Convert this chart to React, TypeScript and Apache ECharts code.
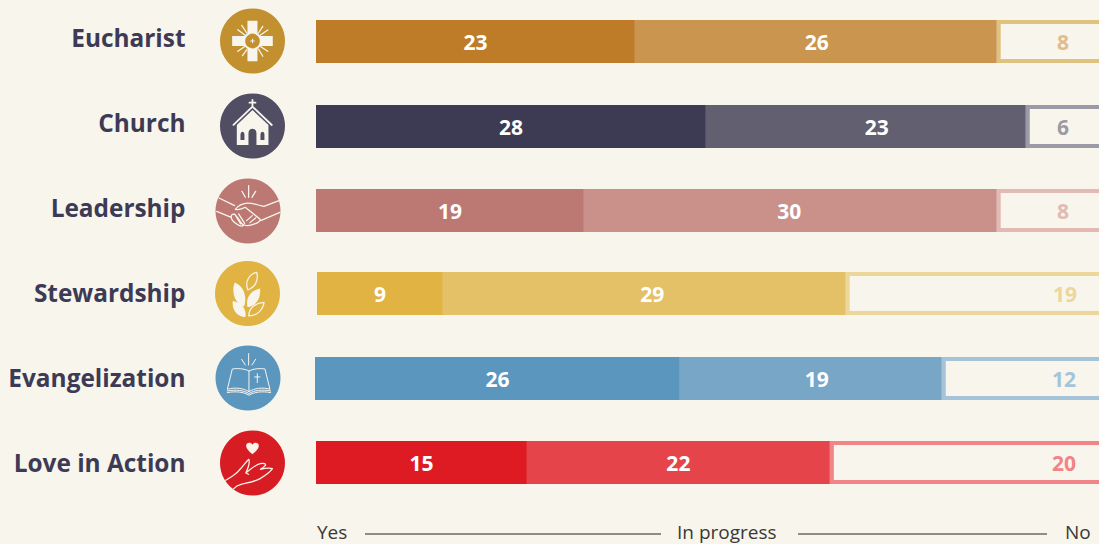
import React, { useEffect, useRef } from "react";
import * as echarts from "echarts";

const categories = ["Eucharist", "Church", "Leadership", "Stewardship", "Evangelization", "Love in Action"];
const yesValues = [22.95, 28.06, 19.28, 9.06, 26.26, 15.18];
const progressValues = [26.04, 23.02, 29.71, 28.99, 18.85, 21.8];
const noValues = [8.01, 5.92, 8.01, 18.95, 11.89, 20.02];
const legendLabels = ["Yes", "In progress", "No"];

const yesColors = ["#BE7B28", "#3D3A53", "#BC7873", "#E0B343", "#5B96BE", "#DE1B23"];
const progressColors = ["#C9954F", "#615F70", "#C9918A", "#E4C066", "#78A6C7", "#E6444B"];
const noBorderColors = ["#E0C27F", "#9C9AA6", "#E3B9B3", "#EDD69A", "#A5C4D9", "#F08487"];
const noLabelColors = ["#E0BC8D", "#9C9AA6", "#E3B9B3", "#EDD69A", "#A5C4D9", "#F08487"];
const iconColors = ["#C2902E", "#514E63", "#BC7873", "#E0B343", "#5B96BE", "#D81C24"];

const BG = "#F8F5EC";
const INK = "#3D3A56";
const FONT = "Open Sans";
const AXIS_MAX = 57;
const BAR_W = 792;
const BAR_H = 43;
const rowLeft = [316, 316, 316, 317, 315, 316];
const rowTop = [20, 105, 189, 272, 357, 441];
const labelY = [37, 122, 207, 292, 377, 462];
const noLabelX = [1063, 1063, 1063, 1065, 1064, 1064];
const progressLabelShift = [1, 11, -1, 8, 6, 0];
const iconCx = [252.5, 252.5, 248, 247.5, 248, 252.5];
const iconCy = [41, 126, 211, 293.5, 378, 463];
const iconShift = [[112, 109], [112, 108], [112, 111], [112, 111], [112, 111], [112, 108]];

const fillPaths = [
  "M97 48H127V94H173V124H127V170H97V124H51V94H97Z",
  "M65 165V105L112 60L160 105V165H124V130C124 112 100 112 100 130V165ZM76 150H88V134C88 122 76 122 76 134ZM136 150H148V134C148 122 136 122 136 134Z",
  "M0 0",
  "M102 150C70 140 64 100 74 78C100 88 112 120 102 150ZM112 152C106 125 122 102 150 96C152 125 140 148 112 152ZM106 182C82 182 64 160 68 134C94 138 110 158 106 182Z",
  "M0 0",
  "M112 82C100 72 93 64 93 56C93 47 106 43 112 53C118 43 131 47 131 56C131 64 124 72 112 82Z",
];
const strokePaths = [
  "M68 75L90 92M80 62L95 85M130 85L143 65M135 92L158 76M135 125L158 140M130 133L143 155M90 125L68 140M95 135L82 153",
  "M55 105L112 50L170 105M112 30V50M103 38H121",
  "M114 35V70M94 52L104 70M135 52L124 70M25 72L72 95M18 112L62 130M205 80L160 97M208 115L150 140M160 97C145 95 125 85 105 88C92 90 80 98 74 106C84 108 95 105 104 100C118 112 135 125 148 135C150 142 140 148 132 150C120 155 105 158 95 150M62 130C60 120 70 118 76 125C85 135 92 148 98 155C92 160 85 155 78 150C70 145 62 138 62 130M72 120L90 150M84 120L102 148M125 125L108 140M135 132L118 146",
  "M113 100C103 75 118 52 140 48C146 72 134 94 113 100ZM116 178C116 155 135 140 162 138C158 162 140 178 116 178Z",
  "M114 38V72M93 55L104 72M135 55L124 72M115 90C100 82 80 82 65 84L50 145C75 138 98 142 115 152C132 142 155 138 178 145L163 84C150 82 130 82 115 90V152M50 150C75 145 100 148 115 158C130 148 155 145 180 150M50 155C75 150 100 153 115 163C130 153 155 150 180 155M140 98V125M132 108H148",
  "M32 160C48 150 62 142 72 130C84 118 92 105 101 97C106 108 98 125 92 138C105 128 122 112 135 110C145 108 155 110 150 116C146 121 140 124 136 127C148 124 162 122 172 125C165 135 150 146 135 155C118 165 95 168 78 172C68 174 60 180 55 186M92 138L100 142",
];

fillPaths.forEach((d, i) => {
  echarts.graphic.registerShape("iconFill" + i, echarts.graphic.extendPath(d, {}));
  echarts.graphic.registerShape("iconStroke" + i, echarts.graphic.extendPath(strokePaths[i], {}));
});

function iconGraphic(i: number) {
  const S = 1 / 3;
  const [ox, oy] = iconShift[i];
  const children: any[] = [
    { type: "circle", shape: { cx: 0, cy: 0, r: 32.5 }, style: { fill: iconColors[i] } },
    {
      type: "iconFill" + i,
      x: -ox * S,
      y: -oy * S,
      scaleX: S,
      scaleY: S,
      style: { fill: BG, stroke: "none" },
    },
    {
      type: "iconStroke" + i,
      x: -ox * S,
      y: -oy * S,
      scaleX: S,
      scaleY: S,
      style: { fill: "none", stroke: BG, lineWidth: i === 4 ? 3 : i === 1 ? 5.5 : 3.8, lineCap: "round", lineJoin: "round" },
    },
  ];
  if (i === 0) {
    children.push(
      { type: "circle", shape: { cx: 0, cy: 0, r: 8.2 }, style: { fill: iconColors[0], stroke: BG, lineWidth: 1.8 } },
      { type: "line", shape: { x1: -2.2, y1: 0, x2: 2.2, y2: 0 }, style: { stroke: BG, lineWidth: 1 } },
      { type: "line", shape: { x1: 0, y1: -2.2, x2: 0, y2: 2.2 }, style: { stroke: BG, lineWidth: 1 } },
    );
  }
  return { type: "group", x: iconCx[i], y: iconCy[i], children };
}

const fmt = (p: any) => String(Math.round(p.value));

function buildOption() {
  const grid: any[] = [];
  const xAxis: any[] = [];
  const yAxis: any[] = [];
  const series: any[] = [];
  categories.forEach((cat, i) => {
    grid.push({ left: rowLeft[i], top: rowTop[i], width: BAR_W, height: BAR_H, containLabel: false });
    xAxis.push({ gridIndex: i, type: "value", min: 0, max: AXIS_MAX, show: false });
    yAxis.push({ gridIndex: i, type: "category", data: [cat], show: false });
    const labelBase = {
      show: true,
      position: "inside",
      color: "#FFFFFF",
      fontFamily: FONT,
      fontWeight: 700,
      fontSize: 21,
      formatter: fmt,
    };
    const barBase = {
      type: "bar",
      xAxisIndex: i,
      yAxisIndex: i,
      stack: "row" + i,
      barWidth: BAR_H,
    };
    series.push({ ...barBase, name: "Yes", data: [yesValues[i]], itemStyle: { color: yesColors[i] }, label: labelBase });
    series.push({
      ...barBase,
      name: "In progress",
      data: [progressValues[i]],
      itemStyle: { color: progressColors[i] },
      label: { ...labelBase, offset: [progressLabelShift[i], 0] },
    });
    series.push({
      type: "custom",
      name: "No",
      xAxisIndex: i,
      yAxisIndex: i,
      clip: false,
      encode: { x: [0, 1], y: 2 },
      data: [[yesValues[i] + progressValues[i], AXIS_MAX, 0, noValues[i]]],
      renderItem: (_p: any, api: any) => {
        const a = api.coord([api.value(0), 0]);
        const b = api.coord([api.value(1), 0]);
        const lw = 4;
        return {
          type: "group",
          children: [
            {
              type: "rect",
              shape: { x: a[0] + lw / 2, y: a[1] - BAR_H / 2 + lw / 2, width: b[0] - a[0] - lw, height: BAR_H - lw },
              style: { fill: BG, stroke: noBorderColors[i], lineWidth: lw },
            },
            {
              type: "text",
              x: noLabelX[i],
              y: a[1],
              style: {
                text: String(Math.round(api.value(3))),
                fill: noLabelColors[i],
                fontFamily: FONT,
                fontWeight: 700,
                fontSize: 21,
                align: "center",
                verticalAlign: "middle",
              },
            },
          ],
        };
      },
    });
  });

  const graphics: any[] = [];
  categories.forEach((cat, i) => {
    graphics.push({
      type: "text",
      x: 185.5,
      y: labelY[i],
      style: { text: cat, fill: INK, fontFamily: FONT, fontWeight: 700, fontSize: 24.4, align: "right", verticalAlign: "middle" },
    });
    graphics.push(iconGraphic(i));
  });
  const legendX = [317, 677, 1065];
  legendLabels.forEach((t, i) => {
    graphics.push({
      type: "text",
      x: legendX[i],
      y: 532,
      style: { text: t, fill: "#3A3835", fontFamily: FONT, fontSize: 19, align: "left", verticalAlign: "middle" },
    });
  });
  graphics.push({ type: "line", shape: { x1: 365, y1: 534, x2: 661, y2: 534 }, style: { stroke: "#6E6A62", lineWidth: 1.4 } });
  graphics.push({ type: "line", shape: { x1: 798, y1: 534, x2: 1047, y2: 534 }, style: { stroke: "#6E6A62", lineWidth: 1.4 } });

  return { animation: false, backgroundColor: BG, grid, xAxis, yAxis, series, graphic: { elements: graphics } };
}

export default function App() {
  const ref = useRef<HTMLDivElement>(null);
  useEffect(() => {
    const chart = echarts.init(ref.current!, undefined, { renderer: "svg" });
    chart.setOption(buildOption() as any);
    return () => chart.dispose();
  }, []);
  return (
    <div style={{ position: "fixed", left: 0, top: 0, width: 1099, height: 544, overflow: "hidden" }}>
      <div ref={ref} style={{ width: 1130, height: 544 }} />
    </div>
  );
}
